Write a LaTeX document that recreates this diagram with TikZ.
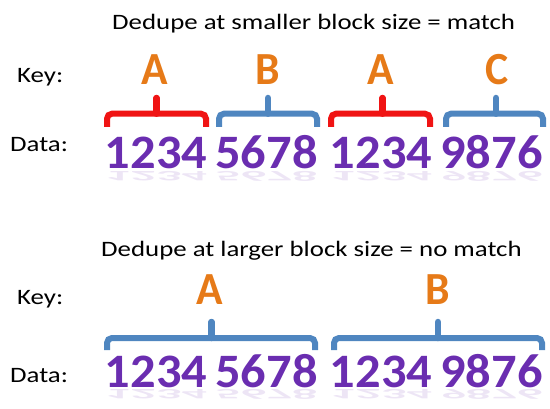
\documentclass[tikz,border=0pt]{standalone}
\usepackage{fontspec}
\setmainfont{Carlito}
\usepackage{graphicx}
\definecolor{dpurple}{HTML}{6A2DB0}
\definecolor{korange}{HTML}{E67A18}
\definecolor{bred}{HTML}{F01414}
\definecolor{bblue}{HTML}{4F86C0}
\newcommand\hsx[2]{\scalebox{#1}[1]{#2}}
\newcommand\vflip[2]{\scalebox{#1}[-0.3]{#2}}
\begin{document}
\begin{tikzpicture}[x=1pt,y=1pt,
  lbl/.style={anchor=base west, inner sep=0pt, text=black, font=\fontsize{22}{22}\selectfont},
  digit/.style={anchor=base, inner sep=0pt, text=dpurple, font=\fontsize{48}{48}\selectfont\bfseries},
  refl/.style={anchor=north, inner sep=0pt, text=dpurple, opacity=0.12, font=\fontsize{48}{48}\selectfont\bfseries},
  keyl/.style={anchor=base, inner sep=0pt, text=korange, font=\fontsize{46}{46}\selectfont\bfseries},
  bracebar/.style={line width=6pt, rounded corners=5pt},
  bracestem/.style={line width=6.5pt, line cap=round}
]
\useasboundingbox (0,0) rectangle (550,408);
% ---------- top part ----------
\node[lbl] (t1) at (112,378.5) {\hsx{1.22}{Dedupe at smaller block size = match}};
\node[lbl] (k1) at (17,325) {\hsx{1.22}{Key:}};
\node[lbl] (d1) at (10,256) {\hsx{1.22}{Data:}};
\node[keyl] (a1) at (155,323) {\hsx{0.95}{A}};
\node[keyl] (b1) at (268,323) {\hsx{0.95}{B}};
\node[keyl] (a2) at (381,323) {\hsx{0.95}{A}};
\node[keyl] (c1) at (497,323) {\hsx{0.95}{C}};
\foreach \xa/\xb/\xm/\col in {107/206/156.5/bred, 219/317/268/bblue, 331/430/382.5/bred, 446/543/496/bblue}{
  \draw[bracebar,\col] (\xa,281) -- (\xa,294.3) -- (\xb,294.3) -- (\xb,281);
  \draw[bracestem,\col] (\xm,294.3) -- (\xm,310);
}
\foreach \x/\t [count=\i] in {156/1234, 266.5/5678, 381/1234, 491.5/9876}{
  \node[digit] (n1\i) at (\x,239) {\hsx{1.05}{\t}};
  \node[refl] (r1\i) at (\x,236.5) {\vflip{1.05}{\t}};
}
% ---------- bottom part ----------
\node[lbl] (t2) at (101,151) {\hsx{1.22}{Dedupe at larger block size = no match}};
\node[lbl] (k2) at (17,103) {\hsx{1.22}{Key:}};
\node[lbl] (d2) at (10,26) {\hsx{1.22}{Data:}};
\node[keyl] (a3) at (210,103) {\hsx{0.95}{A}};
\node[keyl] (b2) at (438,103) {\hsx{0.95}{B}};
\foreach \xa/\xb/\xm in {107/315/211.5, 334/542/438}{
  \draw[bracebar,bblue] (\xa,58) -- (\xa,70) -- (\xb,70) -- (\xb,58);
  \draw[bracestem,bblue] (\xm,70) -- (\xm,86);
}
\foreach \x/\t [count=\i] in {156/1234, 266.5/5678, 381/1234, 491.5/9876}{
  \node[digit] (n2\i) at (\x,21) {\hsx{1.05}{\t}};
  \node[refl] (r2\i) at (\x,18.5) {\vflip{1.05}{\t}};
}
\end{tikzpicture}
\end{document}
